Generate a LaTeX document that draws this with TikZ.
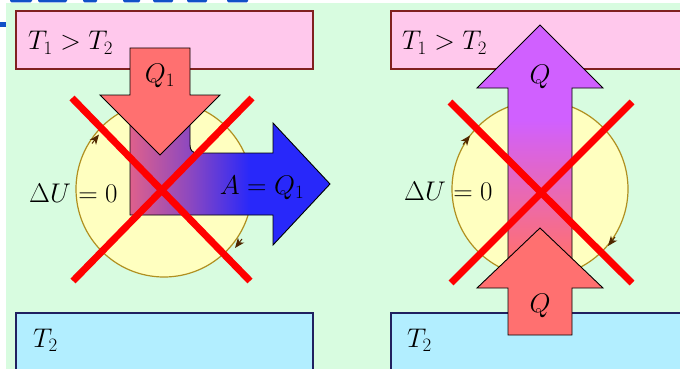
\documentclass[tikz,border=0pt]{standalone}
\usepackage{fix-cm}
\usetikzlibrary{arrows.meta}
\definecolor{bgG}{RGB}{216,252,224}
\definecolor{pinkF}{RGB}{255,200,236}
\definecolor{pinkD}{RGB}{128,32,32}
\definecolor{coldF}{RGB}{178,238,255}
\definecolor{coldD}{RGB}{32,32,96}
\definecolor{yelF}{RGB}{255,255,192}
\definecolor{yelD}{RGB}{176,144,32}
\definecolor{redA}{RGB}{255,112,112}
\definecolor{blueH}{RGB}{40,40,250}
\definecolor{purpA}{RGB}{208,96,255}
\definecolor{lcA}{RGB}{222,96,140}
\definecolor{lcB}{RGB}{140,72,192}
\definecolor{brownC}{RGB}{80,40,0}
\definecolor{titleB}{RGB}{16,80,200}
\newcommand\LshapePath{(130,95) -- (130,215) -- (273,215) -- (273,245) -- (330,184) -- (273,123) -- (273,153) -- (198,153) .. controls (192,153) and (190,150) .. (190,145) -- (190,95) -- cycle}
\newcommand\PurpPath{(508,265) -- (508,88) -- (477,88) -- (540,25) -- (603,88) -- (572,88) -- (572,265) -- cycle}
\begin{document}
\begin{tikzpicture}[x=1pt,y=-1pt,
  lbl/.style={inner sep=0pt, font=\fontsize{27}{32}\selectfont},
  hotbox/.style={fill=pinkF, draw=pinkD, line width=1.2pt},
  coldbox/.style={fill=coldF, draw=coldD, line width=1.2pt},
  cyc/.style={fill=yelF, draw=yelD, line width=1.2pt},
  arrowbody/.style={draw=black, line width=0.9pt},
  cross/.style={draw=red, line width=7pt},
  tinytip/.style={draw=brownC, line width=1pt, -{Stealth[length=10pt,width=8pt,inset=3pt]}}]
\useasboundingbox (0,0) rectangle (680,369);
\fill[white] (0,0) rectangle (680,369);
\fill[bgG] (6,3) rectangle (680,369);
% cut-off title fragments
\fill[titleB] (0,22) rectangle (6,27);
\foreach \a/\b in {10/32,38/67,83/97,123/140,153/173,187/207,227/248}
  \fill[titleB, rounded corners=1.5pt] (\a,-3) rectangle (\b,2.5);
% ---------- left panel ----------
\draw[hotbox] (16,11) rectangle (313,69);
\draw[coldbox] (16,313) rectangle (313,380);
\draw[cyc] (164,189) circle[radius=88];
\draw[tinytip] (92,143.5) -- (99,134.5);
\draw[tinytip] (242,239) -- (235,248);
\begin{scope}
  \clip \LshapePath;
  \shade[left color=lcA, right color=blueH, middle color=lcB] (130,90) rectangle (250,250);
  \fill[blueH] (250,90) rectangle (335,250);
\end{scope}
\draw[arrowbody] \LshapePath;
\draw[arrowbody, fill=redA] (130,48) -- (190,48) -- (190,95) -- (220,95) -- (160,155) -- (100,95) -- (130,95) -- cycle;
\node[lbl, anchor=base west] (t1l) at (28,50) {$T_1>T_2$};
\node[lbl, anchor=base west] (t2l) at (33,347) {$T_2$};
\node[lbl, anchor=base] (q1) at (160,82) {$Q_1$};
\node[lbl, anchor=base] (aq) at (262,194) {$A=Q_1$};
\node[lbl, anchor=base west] (dul) at (29,202) {$\Delta U=0$};
\draw[cross] (72,98) -- (250,281);
\draw[cross] (252,98) -- (73,281);
% ---------- right panel ----------
\draw[hotbox] (391,11) rectangle (700,69);
\draw[coldbox] (391,313) rectangle (700,380);
\draw[cyc] (540,189) circle[radius=88];
\draw[tinytip] (463,144.5) -- (470,135.5);
\draw[tinytip] (615,237) -- (608,246);
\begin{scope}
  \clip \PurpPath;
  \fill[purpA] (470,20) rectangle (610,120);
  \shade[top color=purpA, bottom color=redA] (470,120) rectangle (610,258);
  \fill[redA] (470,258) rectangle (610,270);
\end{scope}
\draw[arrowbody] \PurpPath;
\draw[arrowbody, fill=redA] (508,335) -- (508,288) -- (477,288) -- (540,228) -- (603,288) -- (572,288) -- (572,335) -- cycle;
\node[lbl, anchor=base west] (t1r) at (402,50) {$T_1>T_2$};
\node[lbl, anchor=base west] (t2r) at (407,347) {$T_2$};
\node[lbl, anchor=base] (qu) at (540,84) {$Q$};
\node[lbl, anchor=base] (qd) at (540,312) {$Q$};
\node[lbl, anchor=base west] (dur) at (404,200) {$\Delta U=0$};
\draw[cross] (450,102) -- (632,283);
\draw[cross] (632,102) -- (451,283);
\end{tikzpicture}
\end{document}
